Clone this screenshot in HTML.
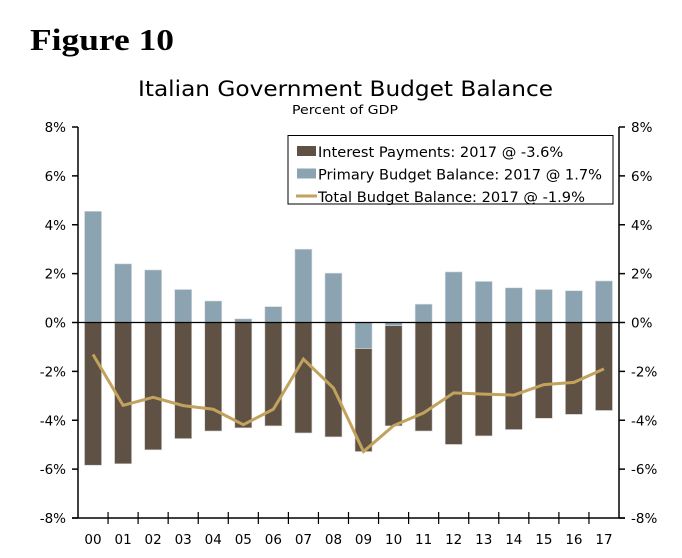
<!DOCTYPE html>
<html><head><meta charset="utf-8"><style>
body{margin:0;background:#fff;width:682px;height:553px;overflow:hidden}
svg text{font-family:"DejaVu Sans","Liberation Sans",sans-serif;fill:#000}
</style></head><body>
<svg id="c" width="682" height="553">
<text x="30" y="50" textLength="144" lengthAdjust="spacingAndGlyphs" style="font-family:'Liberation Serif',serif;font-weight:bold;font-size:31px">Figure 10</text>
<text x="138" y="96" textLength="415" lengthAdjust="spacingAndGlyphs" font-size="21">Italian Government Budget Balance</text>
<text x="292" y="114" textLength="106" lengthAdjust="spacingAndGlyphs" font-size="12">Percent of GDP</text>
<g id="plot"></g>
</svg>
<script>
const categories=["00","01","02","03","04","05","06","07","08","09","10","11","12","13","14","15","16","17"];
const interest=[5.84,5.78,5.21,4.75,4.44,4.31,4.23,4.52,4.68,4.22,4.11,4.44,4.99,4.64,4.38,3.92,3.76,3.6];
const primary=[4.55,2.4,2.15,1.35,0.88,0.15,0.65,3.0,2.02,-1.06,-0.12,0.75,2.07,1.68,1.42,1.35,1.3,1.7];
const total=[-1.31,-3.39,-3.06,-3.4,-3.55,-4.18,-3.55,-1.5,-2.68,-5.28,-4.22,-3.7,-2.88,-2.93,-2.97,-2.54,-2.45,-1.9];
const ticks=[8,6,4,2,0,-2,-4,-6,-8];
const legendLabels=["Interest Payments: 2017 @ -3.6%","Primary Budget Balance: 2017 @ 1.7%","Total Budget Balance: 2017 @ -1.9%"];
const L=78,R=619,T=127,B=518,yMin=-8,yMax=8;
const ns="http://www.w3.org/2000/svg";
const g=document.getElementById('plot');
const bw=(R-L)/categories.length;
const y=v=>T+(yMax-v)/(yMax-yMin)*(B-T);
const xc=i=>L+bw*(i+0.5);
function el(t,a,p){const e=document.createElementNS(ns,t);for(const k in a)e.setAttribute(k,a[k]);(p||g).appendChild(e);return e;}
let e;
e=el('line',{x1:L,y1:T,x2:L,y2:B,stroke:'#000','stroke-width':1.5});


e=el('line',{x1:R,y1:T,x2:R,y2:B,stroke:'#000','stroke-width':1.5});


e=el('line',{x1:L-6,y1:B,x2:R+6,y2:B,stroke:'#000','stroke-width':1.5});


ticks.forEach(t=>{
 el('line',{x1:L-6,y1:y(t),x2:L,y2:y(t),stroke:'#000','stroke-width':1.5});
 el('line',{x1:R,y1:y(t),x2:R+6,y2:y(t),stroke:'#000','stroke-width':1.5});
 e=el('text',{x:L-12,y:y(t)+5,'text-anchor':'end','font-size':13.5});e.textContent=t+'%';
 
 
 e=el('text',{x:R+12,y:y(t)+5,'font-size':13.5});e.textContent=t+'%';
 
 
});
categories.forEach((c,i)=>{
 if(i>0)el('line',{x1:L+bw*i,y1:B-6,x2:L+bw*i,y2:B+6,stroke:'#000','stroke-width':1.2});
 const w=17,x0=xc(i)-w/2;
 const p=primary[i];
 const top=p>0?0:p;
 e=el('rect',{x:x0,y:y(top),width:w,height:y(top-interest[i])-y(top),fill:'#5f5245',stroke:'#cfcfcf','stroke-width':0.6});
 
 
 e=el('rect',{x:x0,y:y(Math.max(p,0)),width:w,height:Math.abs(y(p)-y(0)),fill:'#8ca3b1',stroke:'#d6dde2','stroke-width':0.6});
 
 
 e=el('text',{x:xc(i),y:544,'text-anchor':'middle','font-size':13.5});e.textContent=c;
 
 
});
e=el('line',{x1:L,y1:y(0),x2:R,y2:y(0),stroke:'#000','stroke-width':1.2});


e=el('polyline',{points:total.map((v,i)=>xc(i)+','+y(v)).join(' '),fill:'none',stroke:'#c2a25d','stroke-width':3});


const lg=el('g',{});


el('rect',{x:288,y:135.5,width:325,height:68.5,fill:'#fff',stroke:'#000','stroke-width':1},lg);
const cols=['#5f5245','#8ca3b1','#c2a25d'];
legendLabels.forEach((t,i)=>{
 const yy=154+i*22.5;
 if(i<2)el('rect',{x:297,y:yy-8,width:19,height:10,fill:cols[i]},lg);
 else el('line',{x1:296,y1:yy-3,x2:317,y2:yy-3,stroke:cols[i],'stroke-width':3},lg);
 const tx=el('text',{x:318,y:yy+3,'font-size':14.6},lg);tx.textContent=t;
 
 
});
</script>
</body></html>
